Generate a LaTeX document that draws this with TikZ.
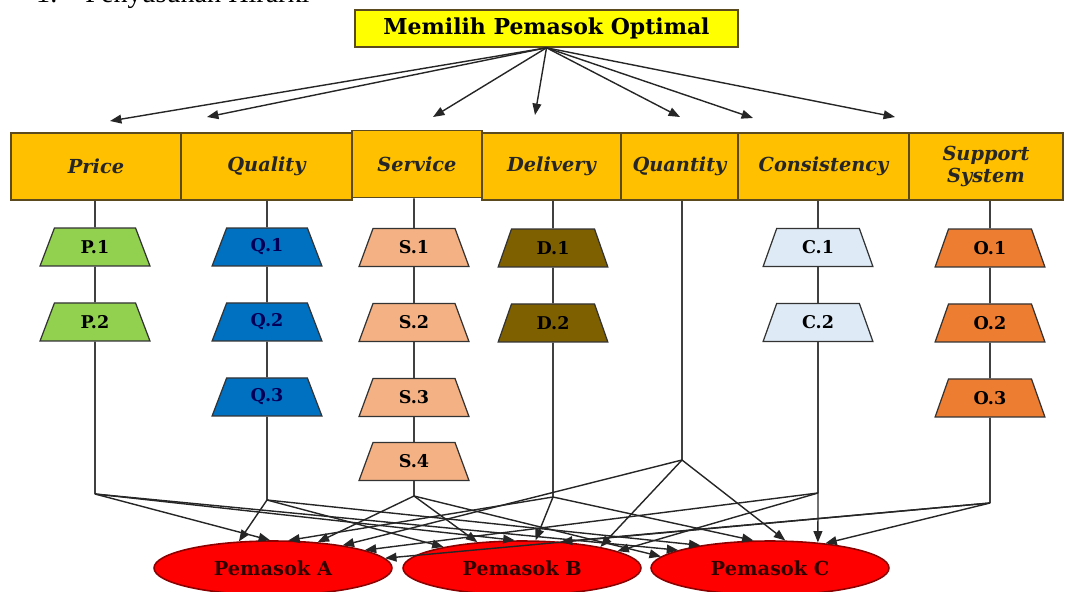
\documentclass[tikz,border=0pt]{standalone}
\usepackage{fontspec}
\setmainfont{DejaVu Serif}
\newfontfamily\headfont{Liberation Serif}
\usetikzlibrary{shapes.geometric,positioning,arrows.meta}

\definecolor{goalyellow}{HTML}{FFFF00}
\definecolor{critorange}{HTML}{FFC000}
\definecolor{boxline}{HTML}{5A4A1E}
\definecolor{pgreen}{HTML}{92D050}
\definecolor{qblue}{HTML}{0070C0}
\definecolor{speach}{HTML}{F4B183}
\definecolor{dolive}{HTML}{7F6000}
\definecolor{cpale}{HTML}{DEEBF7}
\definecolor{oorange}{HTML}{ED7D31}

\tikzset{
  crit/.style={rectangle, draw=boxline, fill=critorange, line width=0.9pt, minimum height=1.34cm,
    inner sep=1pt, align=center, text=black!85, font=\fontsize{11}{13}\selectfont\bfseries\itshape},
  sub/.style={trapezium, trapezium left angle=74, trapezium right angle=74, trapezium stretches=true,
    draw=black!80, line width=0.7pt, minimum width=2.2cm, minimum height=0.76cm,
    font=\fontsize{10}{12}\selectfont\bfseries},
  pemasok/.style={ellipse, draw=red!55!black, fill=red, line width=0.9pt, minimum width=4.76cm,
    minimum height=1.08cm, text=red!20!black, font=\fontsize{11}{13}\selectfont\bfseries},
  arr/.style={-{Triangle[length=6.5pt,width=5pt]}, line width=0.8pt, black!85},
  link/.style={line width=0.9pt, black!75}
}

\begin{document}
\begin{tikzpicture}[x=0.02cm, y=-0.02cm, node distance=1.5cm]
\useasboundingbox (0,0) rectangle (1067,591);

\node[anchor=base west, font=\headfont\fontsize{16}{18}\selectfont] (head) at (30,3) {1.\quad Penyusunan Hirarki};

\node[draw=boxline, fill=goalyellow, line width=0.9pt, minimum width=7.66cm, minimum height=0.74cm,
  font=\fontsize{12.5}{14}\selectfont\bfseries] (goal) at (546.5,28.5) {Memilih Pemasok Optimal};

\node[crit, minimum width=3.4cm] (price) at (96,166.5) {Price};
\node[crit, minimum width=3.42cm] (quality) at (266.5,166.5) {Quality};
\node[crit, minimum width=2.6cm] (service) at (417,164) {Service};
\node[crit, minimum width=2.78cm] (delivery) at (551.5,166.5) {Delivery};
\node[crit, minimum width=2.34cm] (quantity) at (679.5,166.5) {Quantity};
\node[crit, minimum width=3.42cm] (consistency) at (823.5,166.5) {Consistency};
\node[crit, minimum width=3.08cm] (support) at (986,166.5) {Support\\System};

\coordinate (tprice) at (110,121);
\coordinate (tquality) at (207,117);
\coordinate (tservice) at (433,117);
\coordinate (tdelivery) at (535,115);
\coordinate (tquantity) at (680,117);
\coordinate (tconsistency) at (753,118);
\coordinate (tsupport) at (895,117);
\foreach \t in {tprice,tquality,tservice,tdelivery,tquantity,tconsistency,tsupport}
  \draw[arr] (goal.south) -- (\t);

\node[sub, fill=pgreen] (p1) at (95,247) {P.1};
\node[sub, fill=pgreen] (p2) [below of=p1] {P.2};
\node[sub, fill=qblue, text=blue!35!black] (q1) at (267,247) {Q.1};
\node[sub, fill=qblue, text=blue!35!black] (q2) [below of=q1] {Q.2};
\node[sub, fill=qblue, text=blue!35!black] (q3) [below of=q2] {Q.3};
\node[sub, fill=speach] (s1) at (414,247.5) {S.1};
\node[sub, fill=speach] (s2) [below of=s1] {S.2};
\node[sub, fill=speach] (s3) [below of=s2] {S.3};
\node[sub, fill=speach, node distance=1.28cm] (s4) [below of=s3] {S.4};
\node[sub, fill=dolive] (d1) at (553,248) {D.1};
\node[sub, fill=dolive] (d2) [below of=d1] {D.2};
\node[sub, fill=cpale] (c1) at (818,247.5) {C.1};
\node[sub, fill=cpale] (c2) [below of=c1] {C.2};
\node[sub, fill=oorange] (o1) at (990,248) {O.1};
\node[sub, fill=oorange] (o2) [below of=o1] {O.2};
\node[sub, fill=oorange] (o3) [below of=o2] {O.3};

\coordinate (jp) at (95,494);
\coordinate (jq) at (267,500);
\coordinate (js) at (414,496);
\coordinate (jd) at (553,497);
\coordinate (jqt) at (682,460);
\coordinate (jc) at (818,493);
\coordinate (jo) at (990,503);

\draw[link] (price.south -| p1) -- (p1) -- (p2) -- (jp);
\draw[link] (quality.south -| q1) -- (q1) -- (q2) -- (q3) -- (jq);
\draw[link] (service.south -| s1) -- (s1) -- (s2) -- (s3) -- (s4) -- (js);
\draw[link] (delivery.south -| d1) -- (d1) -- (d2) -- (jd);
\draw[link] (quantity.south -| jqt) -- (jqt);
\draw[link] (consistency.south -| c1) -- (c1) -- (c2) -- (jc);
\draw[link] (support.south -| o1) -- (o1) -- (o2) -- (o3) -- (jo);

\node[pemasok] (A) at (273,568) {Pemasok A};
\node[pemasok] (B) at (522,568) {Pemasok B};
\node[pemasok] (C) at (770,568) {Pemasok C};

\foreach \j/\a in {jq/142, jp/96, jd/61, js/30, jqt/18, jc/11, jo/5}
  \draw[arr] (\j) -- (A.\a);
\foreach \j/\a in {jq/165, js/150, jp/105, jd/64, jo/34, jqt/15, jc/10}
  \draw[arr] (\j) -- (B.\a);
\foreach \j/\a in {js/174, jp/169, jq/162, jd/121, jqt/61, jc/28, jo/24}
  \draw[arr] (\j) -- (C.\a);
\end{tikzpicture}
\end{document}
